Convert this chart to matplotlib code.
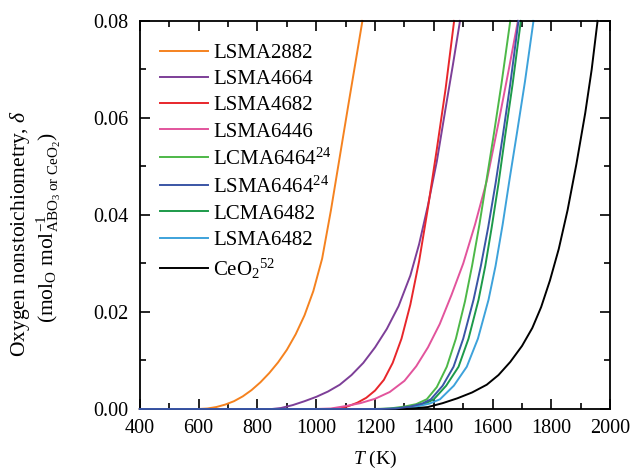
import matplotlib
matplotlib.use("Agg")
import matplotlib.pyplot as plt
from matplotlib.ticker import MultipleLocator, FormatStrFormatter

plt.rcParams['font.family'] = ['Liberation Serif', 'DejaVu Serif']
plt.rcParams['mathtext.fontset'] = 'custom'
plt.rcParams['mathtext.rm'] = 'Liberation Serif'
plt.rcParams['mathtext.it'] = 'Liberation Serif:italic'
plt.rcParams['mathtext.bf'] = 'Liberation Serif:bold'

labels = ["LSMA2882", "LSMA4664", "LSMA4682", "LSMA6446",
          "LCMA6464$^{24}$", "LSMA6464$^{24}$", "LCMA6482", "LSMA6482",
          "CeO$_2$$^{52}$"]
colors = ["#F5821F", "#7D3F98", "#E8262B", "#E2549C", "#4DB848",
          "#3A55A5", "#1D9A4A", "#3DA2DB", "#000000"]

T_lsma2882 = [400, 600, 630, 660, 690, 720, 750, 780, 810, 840, 870, 900, 930, 960, 990, 1020, 1050, 1080, 1110, 1135, 1157]
d_lsma2882 = [0, 0, 0.0001, 0.0004, 0.0009, 0.0016, 0.0026, 0.0039, 0.0055, 0.0074, 0.0096, 0.0122, 0.0154, 0.0193, 0.0243, 0.0310, 0.0410, 0.0520, 0.0630, 0.0720, 0.0800]

T_lsma4664 = [400, 850, 880, 920, 960, 1000, 1040, 1080, 1120, 1160, 1200, 1240, 1280, 1320, 1350, 1380, 1410, 1440, 1465, 1489]
d_lsma4664 = [0, 0, 0.0002, 0.0008, 0.0016, 0.0025, 0.0036, 0.0050, 0.0070, 0.0095, 0.0127, 0.0165, 0.0212, 0.0275, 0.0340, 0.0420, 0.0510, 0.0620, 0.0710, 0.0800]

T_lsma4682 = [400, 1050, 1080, 1110, 1140, 1170, 1200, 1230, 1260, 1290, 1320, 1350, 1380, 1410, 1440, 1469]
d_lsma4682 = [0, 0, 0.0001, 0.0006, 0.0013, 0.0023, 0.0038, 0.0060, 0.0095, 0.0145, 0.0215, 0.0305, 0.0415, 0.0535, 0.0660, 0.0800]

T_lsma6446 = [400, 1000, 1050, 1100, 1150, 1200, 1250, 1300, 1340, 1380, 1420, 1460, 1500, 1540, 1580, 1620, 1655, 1686]
d_lsma6446 = [0, 0, 0.0001, 0.0006, 0.0012, 0.0021, 0.0035, 0.0058, 0.0088, 0.0127, 0.0175, 0.0235, 0.0300, 0.0380, 0.0470, 0.0590, 0.0700, 0.0800]

T_lcma6464 = [400, 1200, 1250, 1300, 1340, 1376, 1410, 1444, 1475, 1506, 1530, 1555, 1580, 1605, 1630, 1660]
d_lcma6464 = [0, 0, 0.0001, 0.0005, 0.0010, 0.0020, 0.0045, 0.0087, 0.0145, 0.0222, 0.0295, 0.0380, 0.0475, 0.0570, 0.0670, 0.0800]

T_lsma6464 = [400, 1220, 1270, 1320, 1360, 1390, 1430, 1467, 1500, 1535, 1560, 1585, 1610, 1635, 1660, 1688]
d_lsma6464 = [0, 0, 0.0001, 0.0005, 0.0011, 0.0020, 0.0048, 0.0087, 0.0145, 0.0225, 0.0295, 0.0375, 0.0465, 0.0565, 0.0670, 0.0800]

T_lcma6482 = [400, 1230, 1280, 1330, 1370, 1400, 1442, 1484, 1518, 1552, 1575, 1597, 1620, 1643, 1668, 1696]
d_lcma6482 = [0, 0, 0.0001, 0.0005, 0.0011, 0.0020, 0.0048, 0.0087, 0.0145, 0.0225, 0.0295, 0.0375, 0.0465, 0.0565, 0.0670, 0.0800]

T_lsma6482 = [400, 1240, 1290, 1340, 1385, 1421, 1468, 1512, 1550, 1586, 1610, 1634, 1658, 1683, 1710, 1739]
d_lsma6482 = [0, 0, 0.0001, 0.0005, 0.0011, 0.0020, 0.0048, 0.0087, 0.0145, 0.0225, 0.0295, 0.0380, 0.0475, 0.0570, 0.0675, 0.0800]

T_ceo2 = [400, 1280, 1330, 1380, 1430, 1480, 1530, 1580, 1620, 1660, 1700, 1735, 1765, 1795, 1825, 1855, 1885, 1915, 1937, 1957]
d_ceo2 = [0, 0, 0.0001, 0.0004, 0.0012, 0.0022, 0.0034, 0.0050, 0.0070, 0.0097, 0.0130, 0.0167, 0.0210, 0.0265, 0.0330, 0.0410, 0.0505, 0.0610, 0.0700, 0.0800]

series_T = [T_lsma2882, T_lsma4664, T_lsma4682, T_lsma6446, T_lcma6464,
            T_lsma6464, T_lcma6482, T_lsma6482, T_ceo2]
series_d = [d_lsma2882, d_lsma4664, d_lsma4682, d_lsma6446, d_lcma6464,
            d_lsma6464, d_lcma6482, d_lsma6482, d_ceo2]
zorders = [2, 2, 2, 2, 2, 3, 2, 2, 2]

fig = plt.figure(figsize=(6.33, 4.75), dpi=100)
ax = fig.add_axes([0.221, 0.139, 0.743, 0.817])

for T, d, c, lab, z in zip(series_T, series_d, colors, labels, zorders):
    ax.plot(T, d, color=c, lw=1.4, label=lab, zorder=z, clip_on=False)

ax.set_xlim(400, 2000)
ax.set_ylim(0, 0.08)
ax.xaxis.set_major_locator(MultipleLocator(200))
ax.xaxis.set_minor_locator(MultipleLocator(100))
ax.yaxis.set_major_locator(MultipleLocator(0.02))
ax.yaxis.set_minor_locator(MultipleLocator(0.01))
ax.yaxis.set_major_formatter(FormatStrFormatter('%.2f'))
ax.tick_params(which='both', direction='in', top=True, right=True,
               labelsize=14.5, width=1.2)
ax.tick_params(axis='x', pad=7)
ax.tick_params(axis='y', pad=8)
ax.tick_params(which='major', length=7)
ax.tick_params(which='minor', length=4)
for s in ax.spines.values():
    s.set_linewidth(1.3)

ax.set_xlabel("$\\mathit{T}$ (K)", fontsize=14, labelpad=8)

fig.text(20 / 633, 1 - 234 / 475, "Oxygen nonstoichiometry, $\\delta$",
         rotation=90, ha='center', va='center', fontsize=15.5)
fig.text(49 / 633, 1 - 228 / 475,
         "(mol$_\\mathrm{O}$ mol$^{-1}_{\\mathrm{ABO_3\\ or\\ CeO_2}}$)",
         rotation=90, ha='center', va='center', fontsize=15.5)

leg = ax.legend(loc='upper left', frameon=False, fontsize=15,
                handlelength=2.3, handletextpad=0.25, labelspacing=0.32,
                borderaxespad=0.0, borderpad=0.0,
                bbox_to_anchor=(0.0426, 0.942))

fig.savefig("out.png", dpi=100)
